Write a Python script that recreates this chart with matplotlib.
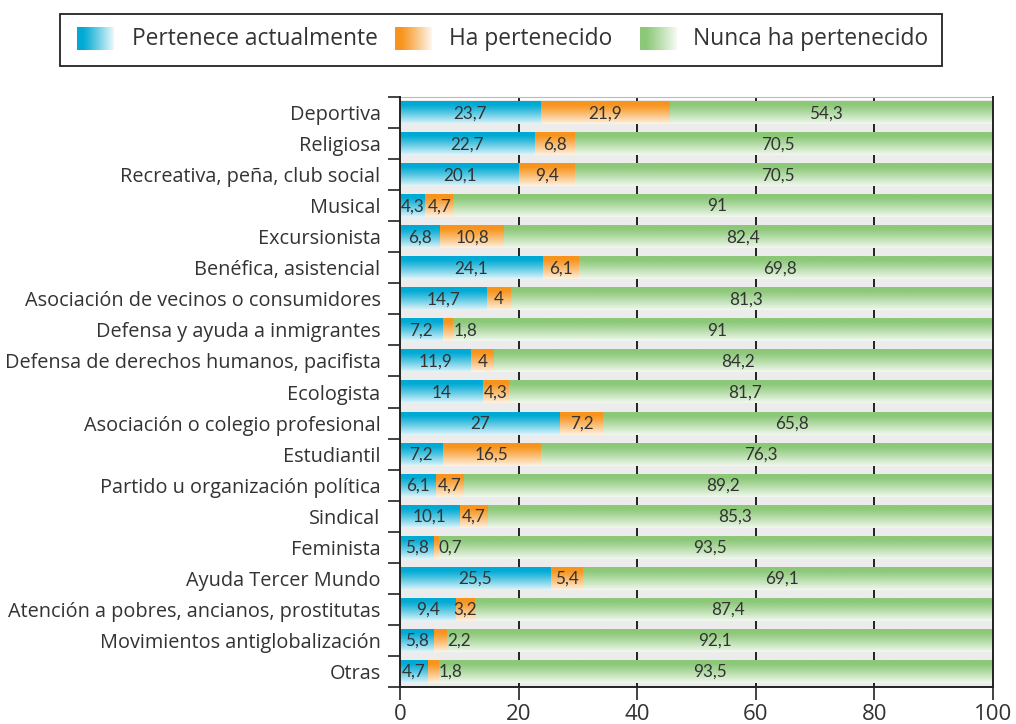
import numpy as np
import matplotlib
matplotlib.use("Agg")
import matplotlib.pyplot as plt
from matplotlib.colors import to_rgb
from matplotlib.font_manager import FontProperties
from matplotlib.textpath import TextPath

plt.rcParams['font.family'] = ['Open Sans', 'DejaVu Sans']

categories = [
    "Deportiva", "Religiosa", "Recreativa, peña, club social", "Musical",
    "Excursionista", "Benéfica, asistencial",
    "Asociación de vecinos o consumidores", "Defensa y ayuda a inmigrantes",
    "Defensa de derechos humanos, pacifista", "Ecologista",
    "Asociación o colegio profesional", "Estudiantil",
    "Partido u organización política", "Sindical", "Feminista",
    "Ayuda Tercer Mundo", "Atención a pobres, ancianos, prostitutas",
    "Movimientos antiglobalización", "Otras",
]
pertenece = [23.7, 22.7, 20.1, 4.3, 6.8, 24.1, 14.7, 7.2, 11.9, 14, 27, 7.2,
             6.1, 10.1, 5.8, 25.5, 9.4, 5.8, 4.7]
ha_pertenecido = [21.9, 6.8, 9.4, 4.7, 10.8, 6.1, 4, 1.8, 4, 4.3, 7.2, 16.5,
                  4.7, 4.7, 0.7, 5.4, 3.2, 2.2, 1.8]
nunca = [54.3, 70.5, 70.5, 91, 82.4, 69.8, 81.3, 91, 84.2, 81.7, 65.8, 76.3,
         89.2, 85.3, 93.5, 69.1, 87.4, 92.1, 93.5]
series_names = ["Pertenece actualmente", "Ha pertenecido", "Nunca ha pertenecido"]
x_ticks = [0, 20, 40, 60, 80, 100]

colors = ["#00aad4", "#f7941d", "#8cc878"]
TEXT = "#333333"
W, H = 1016, 724


def fmt(v):
    return f"{v:g}".replace(".", ",")


def size_for_width(s, family, width_px):
    """Font size (pt) at which string s is width_px pixels wide at 100 dpi."""
    tp = TextPath((0, 0), s, size=10, prop=FontProperties(family=family))
    w = tp.get_extents().width * 100 / 72
    return 10 * width_px / w


def gradient(color, n=64, light=0.88, vertical=True):
    c = np.array(to_rgb(color))
    t = np.linspace(0, 1, n)
    # saturated along the top, fading towards white at the bottom
    w = np.clip((t - 0.15) / 0.85, 0, 1) ** 1.1 * light
    g = c[None, :] * (1 - w[:, None]) + w[:, None]
    return g[:, None, :] if vertical else g[None, :, :]


ylab_size = size_for_width("Defensa de derechos humanos, pacifista", "Open Sans", 373)
leg_size = size_for_width("Pertenece actualmente", "Open Sans", 243)
val_size = 12.3

fig = plt.figure(figsize=(W / 100, H / 100), dpi=100)
ax = fig.add_axes([400 / W, 1 - 687 / H, 593 / W, 590 / H])

n = len(categories)
y = np.arange(n)
bar_h = 0.74

# grey band behind the rows, leaving a thin white strip on top
ax.axhspan(-0.5 + 3 / 31, n - 0.5, color="#ececec", zorder=0, lw=0)
for xv in x_ticks[1:-1]:
    ax.axvline(xv, color="#222222", lw=1.4, zorder=1)

left = np.zeros(n)
for vals, col in zip([pertenece, ha_pertenecido, nunca], colors):
    bars = ax.barh(y, vals, left=left, height=bar_h, color="none", lw=0, zorder=2)
    img = gradient(col)
    for b in bars:
        x0, y0 = b.get_x(), b.get_y()
        ax.imshow(img, extent=(x0, x0 + b.get_width(), y0 + b.get_height(), y0),
                  aspect="auto", interpolation="bilinear", zorder=2)
    left = left + np.array(vals)

ax.set_xlim(0, 100)
ax.set_ylim(n - 0.5, -0.5)

# value labels; narrow middle segments get their label just after the segment
lab_kw = dict(va="center", fontsize=val_size, color=TEXT, zorder=4,
              family=["Lato", "DejaVu Sans"])
for i in range(n):
    p, h, nn = pertenece[i], ha_pertenecido[i], nunca[i]
    ax.text(p / 2, i + 0.02, fmt(p), ha="center", **lab_kw)
    if h < 2.5:
        ax.text(p + h, i + 0.02, fmt(h), ha="left", **lab_kw)
    else:
        ax.text(p + h / 2, i + 0.02, fmt(h), ha="center", **lab_kw)
    ax.text(p + h + nn / 2 - 1, i + 0.02, fmt(nn), ha="center", **lab_kw)

ax.set_yticks(y)
ax.set_yticklabels(categories, fontsize=ylab_size, color=TEXT)
ax.set_yticks(np.arange(n + 1) - 0.5, minor=True)
ax.tick_params(axis="y", which="major", length=0, pad=14)
ax.tick_params(axis="y", which="minor", length=9, width=1.2, color="#222222")
ax.set_xticks(x_ticks)
ax.set_xticklabels([str(v) for v in x_ticks], fontsize=16, color=TEXT)
ax.tick_params(axis="x", length=9, width=1.2, color="#222222", pad=3)

for side in ["left", "bottom", "right"]:
    ax.spines[side].set_color("#222222")
    ax.spines[side].set_linewidth(1.4)
    ax.spines[side].set_zorder(5)
ax.spines["top"].set_color("#bbbbbb")
ax.spines["top"].set_linewidth(0.8)

# legend box in figure pixel units
lax = fig.add_axes([0, 0, 1, 1], zorder=-1)
lax.set_xlim(0, W)
lax.set_ylim(H, 0)
lax.axis("off")
lax.add_patch(plt.Rectangle((59.5, 13.5), 882, 52.5, fill=False,
                            edgecolor="#222222", lw=1.3))
handle_x = [77, 395, 640]
text_x = [132, 449, 693]
for hx, tx, col, name in zip(handle_x, text_x, colors, series_names):
    lax.imshow(gradient(col, light=0.92, vertical=False), extent=(hx, hx + 37, 50, 27),
               aspect="auto", interpolation="bilinear")
    lax.text(tx, 39, name, ha="left", va="center", fontsize=leg_size, color=TEXT)
lax.set_xlim(0, W)
lax.set_ylim(H, 0)

fig.savefig("out.png", dpi=100)
